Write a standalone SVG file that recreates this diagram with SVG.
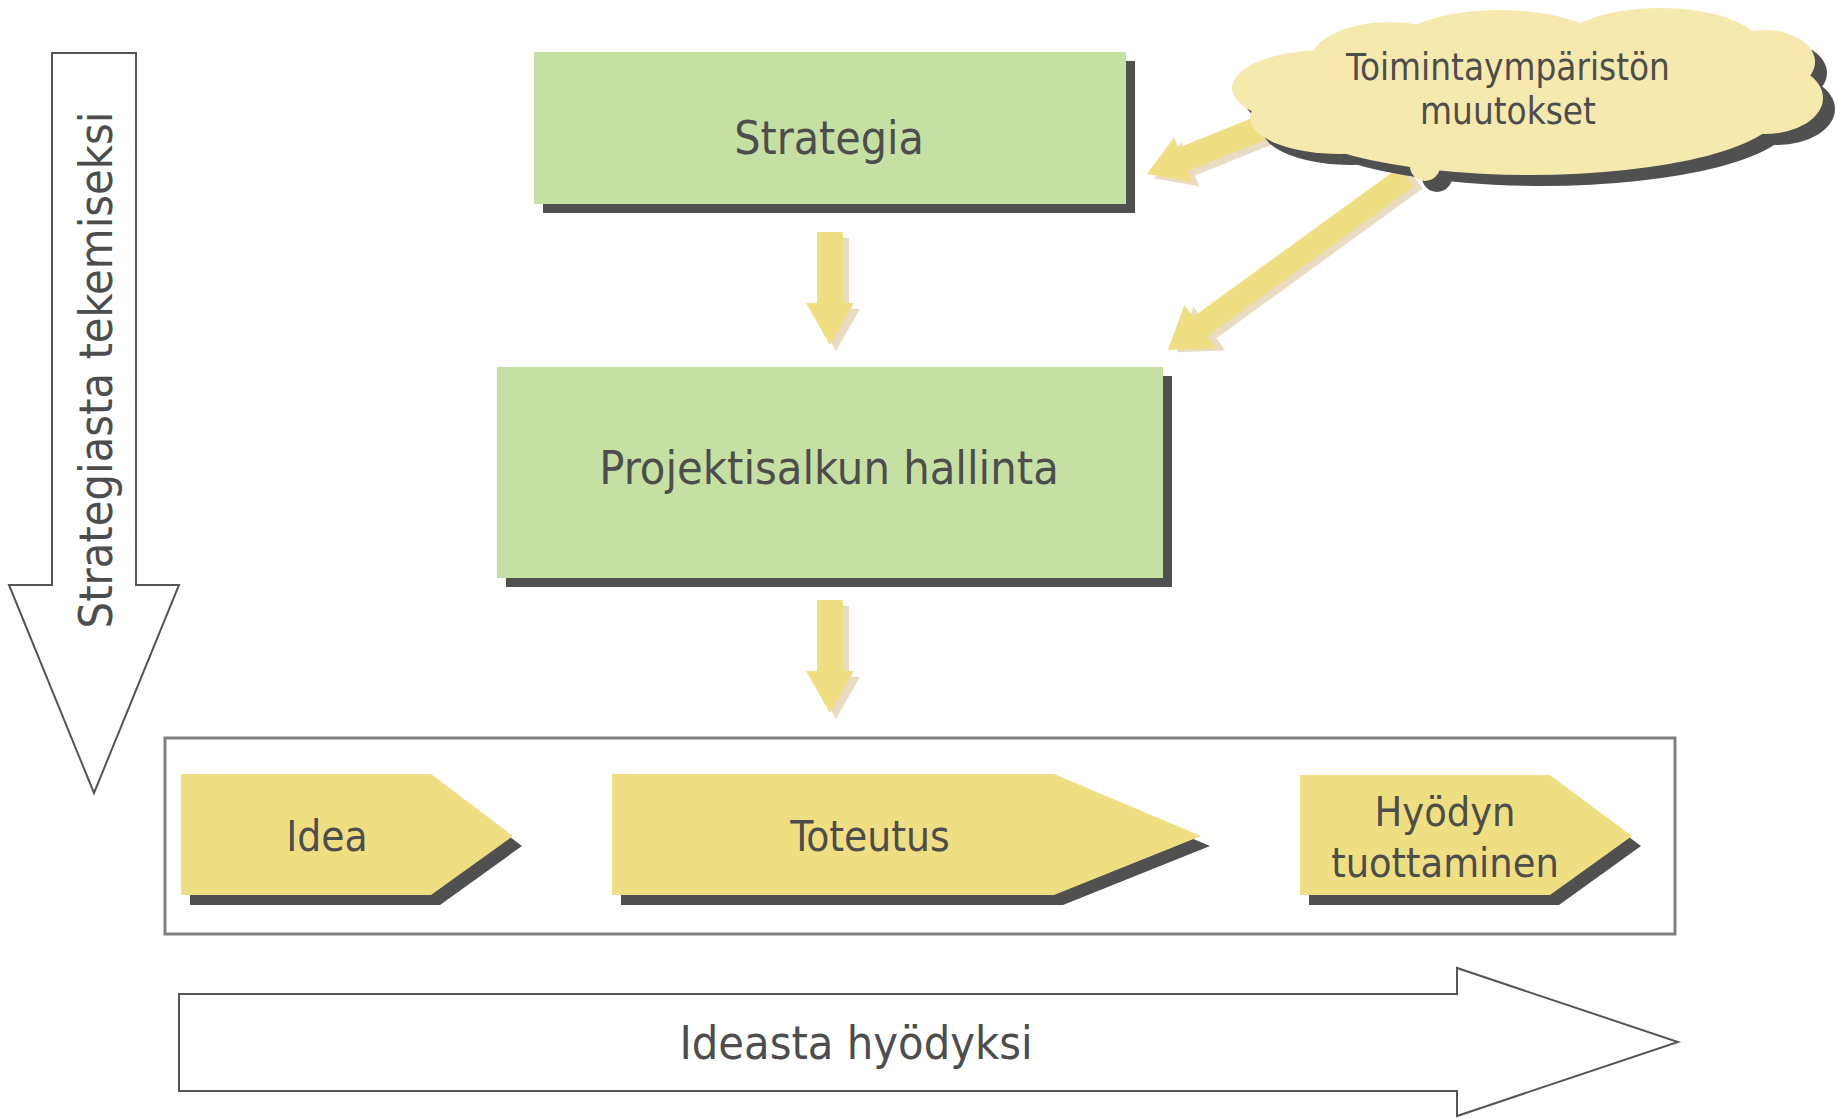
<svg xmlns="http://www.w3.org/2000/svg" width="1837" height="1118" viewBox="0 0 1837 1118">
<style>
.t{font-family:"DejaVu Sans Condensed","DejaVu Sans",sans-serif;font-stretch:condensed;fill:#4D4D4D;text-anchor:middle}
.green{fill:#C6E0A3}
.shadow{fill:#505050}
.chev{fill:#F0DE82}
.yarrow{fill:#F0DE82}
.yshadow{fill:#EADCC3}
.cloud{fill:#F5E9AE}
.outline{fill:#FFFFFF;stroke:#555555;stroke-width:2}
</style>
<defs>
<polygon id="downArrow" points="-13,0 13,0 13,71 24,71 0,113 -24,71 -13,71"/>
<g id="cloudShape">
<ellipse cx="1325" cy="88" rx="93" ry="38"/>
<ellipse cx="1390" cy="62" rx="80" ry="40"/>
<ellipse cx="1500" cy="52" rx="110" ry="42"/>
<ellipse cx="1660" cy="46" rx="100" ry="38"/>
<ellipse cx="1765" cy="62" rx="50" ry="32"/>
<ellipse cx="1765" cy="98" rx="58" ry="36"/>
<ellipse cx="1530" cy="110" rx="250" ry="65"/>
<ellipse cx="1340" cy="118" rx="90" ry="36"/>
<circle cx="1425" cy="166" r="15"/>
</g>
</defs>

<!-- left big arrow -->
<g id="arrow-strategiasta">
<polygon class="outline" points="52,53 136,53 136,585 179,585 94,793 9,585 52,585"/>
<text class="t" font-size="46.5" transform="translate(112,370) rotate(-90)">Strategiasta tekemiseksi</text>
</g>

<!-- bottom big arrow -->
<g id="arrow-ideasta">
<polygon class="outline" points="179,994 1457,994 1457,968 1678,1042 1457,1116 1457,1091 179,1091"/>
<text class="t" font-size="46.5" x="856" y="1059">Ideasta hyödyksi</text>
</g>

<g id="connectors">
<!-- cloud to Strategia -->
<g transform="translate(1147,174) rotate(-22)">
<polygon class="yshadow" transform="translate(5,7)" points="0,0 39,-24 39,-12.5 140,-12.5 140,12.5 39,12.5 39,24"/>
<polygon class="yarrow" points="0,0 39,-24 39,-12.5 140,-12.5 140,12.5 39,12.5 39,24"/>
</g>
<!-- cloud to Projektisalkun -->
<g transform="translate(1168,350) rotate(-36)">
<polygon class="yshadow" transform="translate(6,7)" points="0,0 40,-27 40,-12 295,-12 295,12 40,12 40,27"/>
<polygon class="yarrow" points="0,0 40,-27 40,-12 295,-12 295,12 40,12 40,27"/>
</g>
<!-- Strategia to Projektisalkun -->
<use href="#downArrow" class="yshadow" x="836" y="238"/>
<use href="#downArrow" class="yarrow" x="830" y="232"/>
<!-- Projektisalkun to process -->
<use href="#downArrow" class="yshadow" x="836" y="606"/>
<use href="#downArrow" class="yarrow" x="830" y="600"/>
</g>

<g id="strategia">
<rect class="shadow" x="543" y="61" width="592" height="152"/>
<rect class="green" x="534" y="52" width="592" height="152"/>
<text class="t" font-size="46" x="829" y="154">Strategia</text>
</g>

<g id="projektisalkun">
<rect class="shadow" x="506" y="376" width="666" height="211"/>
<rect class="green" x="497" y="367" width="666" height="211"/>
<text class="t" font-size="46.5" x="829" y="484">Projektisalkun hallinta</text>
</g>

<g id="cloud">
<use href="#cloudShape" class="shadow" transform="translate(12,11)"/>
<use href="#cloudShape" class="cloud"/>
<text class="t" font-size="36.5" x="1508" y="80">Toimintaympäristön</text>
<text class="t" font-size="36.5" x="1508" y="124">muutokset</text>
</g>

<g id="process">
<rect x="165" y="738" width="1510" height="196" fill="none" stroke="#808080" stroke-width="3"/>
</g>

<g id="idea">
<polygon class="shadow" transform="translate(9,10)" points="181,774 431,774 513,836 431,895 181,895"/>
<polygon class="chev" points="181,774 431,774 513,836 431,895 181,895"/>
<text class="t" font-size="42" x="327" y="851">Idea</text>
</g>

<g id="toteutus">
<polygon class="shadow" transform="translate(9,10)" points="612,774 1054,774 1201,836 1054,895 612,895"/>
<polygon class="chev" points="612,774 1054,774 1201,836 1054,895 612,895"/>
<text class="t" font-size="42" x="870" y="851">Toteutus</text>
</g>

<g id="hyodyn">
<polygon class="shadow" transform="translate(9,10)" points="1300,775 1550,775 1632,836 1550,895 1300,895"/>
<polygon class="chev" points="1300,775 1550,775 1632,836 1550,895 1300,895"/>
<text class="t" font-size="41" x="1445" y="826">Hyödyn</text>
<text class="t" font-size="41" x="1445" y="877">tuottaminen</text>
</g>
</svg>
